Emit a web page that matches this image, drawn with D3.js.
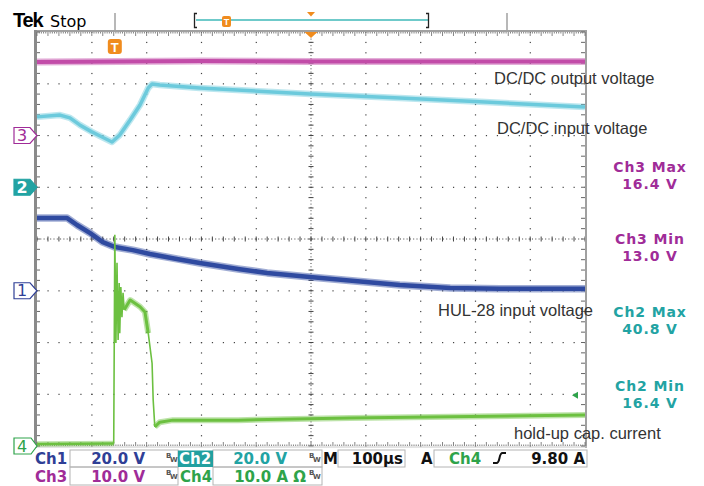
<!DOCTYPE html>
<html>
<head>
<meta charset="utf-8">
<script src="https://cdn.jsdelivr.net/npm/d3@7"></script>
<style>
  body { margin: 0; background: #fff; }
  svg { display: block; }
</style>
</head>
<body>
<svg width="704" height="486"></svg>
<script>
// time axis: microseconds, 100 us/div, 10 div
const ch1Time  = [0, 55, 73, 97, 120, 142, 175, 206, 255, 297, 367, 420, 498, 662, 754, 845, 1000];
const ch1Volts = [28.1, 28.1, 25.4, 22.3, 18.8, 16.9, 15.7, 14.2, 12.3, 10.7, 8.4, 6.9, 5.3, 2.2, 1.1, 0.8, 0.8];

const ch2Time  = [0, 42, 60, 78, 100, 115, 137, 151, 170, 188, 203, 210, 224, 297, 498, 662, 799, 1000];
const ch2Volts = [27.2, 27.9, 26.8, 24.1, 21.4, 19.8, 17.5, 20.2, 26.0, 31.8, 38.4, 39.9, 39.5, 38.4, 36.0, 34.5, 33.1, 31.0];

const ch3Time  = [0, 150, 300, 500, 700, 1000];
const ch3Volts = [14.2, 14.3, 14.4, 14.3, 14.3, 14.3];

const ch4Time  = [0, 140, 142, 144, 146, 148, 150, 151, 153, 155, 157, 159, 170, 188, 197, 203, 210, 212, 215, 224, 248, 367, 571, 1000];
const ch4Amps  = [0.4, 0.5, 40.8, 19.9, 35.4, 20.5, 31.5, 21.8, 30.7, 24.9, 29.6, 26.3, 28.2, 26.9, 25.9, 21.8, 16.0, 8.9, 3.7, 4.6, 5.0, 5.0, 5.4, 6.0];

const traceLabels = ['DC/DC output voltage', 'DC/DC input voltage', 'HUL-28 input voltage', 'hold-up cap. current'];
const measureLabels = ['Ch3 Max', 'Ch3 Min', 'Ch2 Max', 'Ch2 Min'];
const measureValues = ['16.4 V', '13.0 V', '40.8 V', '16.4 V'];

const svg = d3.select('svg');

const orange = '#f08c1e';
const col = {
  ch1: '#2f3f96', ch2: '#22a3a3', ch3: '#a02c98', ch4: '#2ea34a',
  tr1: '#2f4aa0', tr2: '#6ccadc', tr3: '#c24ca8', tr4: '#6cc040'
};

// channel settings: reference level (div from centre) and units per div
const chans = {
  ch1: {offset: -1, perDiv: 20},
  ch2: {offset: 1, perDiv: 20},
  ch3: {offset: 2, perDiv: 10},
  ch4: {offset: -4, perDiv: 10}
};

const x = d3.scaleLinear().domain([0, 1000]).range([37, 585]);
const y = d3.scaleLinear().domain([-4, 4]).range([446, 32]);

const mono = '"DejaVu Sans", sans-serif';
const sans = '"Liberation Sans", Arial, sans-serif';

// ---------- header ----------
svg.append('text').attr('x', 13).attr('y', 27)
  .attr('font-family', sans).attr('font-weight', 'bold').attr('font-size', 20)
  .attr('letter-spacing', -1.2).text('Tek');
svg.append('text').attr('x', 50).attr('y', 27)
  .attr('font-family', '"DejaVu Sans", sans-serif').attr('font-size', 16)
  .text('Stop');

[115, 507].forEach(px => {
  svg.append('line').attr('x1', px).attr('x2', px).attr('y1', 13).attr('y2', 30)
    .attr('stroke', '#b8b8b8').attr('stroke-width', 2);
});

// record view bar
svg.append('line').attr('x1', 196).attr('x2', 428).attr('y1', 20).attr('y2', 20)
  .attr('stroke', '#3fb8b8').attr('stroke-width', 1.5);
svg.append('path').attr('d', 'M197,13.5 H194.5 V27.5 H197')
  .attr('fill', 'none').attr('stroke', '#222').attr('stroke-width', 1.3);
svg.append('path').attr('d', 'M426,13.5 H428.5 V27.5 H426')
  .attr('fill', 'none').attr('stroke', '#222').attr('stroke-width', 1.3);
svg.append('rect').attr('x', 222).attr('y', 16).attr('width', 9).attr('height', 11).attr('rx', 2)
  .attr('fill', orange);
svg.append('text').attr('x', 226.5).attr('y', 25).attr('text-anchor', 'middle')
  .attr('font-family', sans).attr('font-weight', 'bold').attr('font-size', 9).attr('fill', '#fff').text('T');
svg.append('path').attr('d', 'M307,12 L315,12 L311,16.5 Z').attr('fill', orange);

// ---------- graticule ----------
const g = svg.append('g');

const minorX = d3.range(0, 1000.1, 20);
const minorY = d3.range(-4, 4.01, 0.2);
const majorX = d3.range(100, 1000, 100).filter(t => t !== 500);
const majorY = d3.range(-3, 4, 1).filter(d => d !== 0);

// dotted grid lines
majorX.forEach(t => {
  g.selectAll(null).data(minorY).enter().append('rect')
    .attr('x', x(t) - 0.5).attr('y', d => y(d) - 0.5)
    .attr('width', 1.2).attr('height', 1.2).attr('fill', '#444');
});
majorY.forEach(dv => {
  g.selectAll(null).data(minorX).enter().append('rect')
    .attr('x', d => x(d) - 0.5).attr('y', y(dv) - 0.5)
    .attr('width', 1.2).attr('height', 1.2).attr('fill', '#444');
});

// centre cross with ticks
g.append('line').attr('x1', x(0)).attr('x2', x(1000)).attr('y1', y(0)).attr('y2', y(0))
  .attr('stroke', '#444').attr('stroke-dasharray', '1,2.3');
g.append('line').attr('x1', x(500)).attr('x2', x(500)).attr('y1', y(4)).attr('y2', y(-4))
  .attr('stroke', '#444').attr('stroke-dasharray', '1,2.3');
g.selectAll(null).data(minorX).enter().append('line')
  .attr('x1', d => x(d)).attr('x2', d => x(d))
  .attr('y1', y(0) - 2.5).attr('y2', y(0) + 2.5).attr('stroke', '#444');
g.selectAll(null).data(minorY).enter().append('line')
  .attr('y1', d => y(d)).attr('y2', d => y(d))
  .attr('x1', x(500) - 2.5).attr('x2', x(500) + 2.5).attr('stroke', '#444');

// frame
g.append('line').attr('x1', 35).attr('x2', 587).attr('y1', 31).attr('y2', 31)
  .attr('stroke', '#a0a0a0').attr('stroke-width', 2);
g.append('line').attr('x1', 35.5).attr('x2', 35.5).attr('y1', 30).attr('y2', 448)
  .attr('stroke', '#8a8a8a').attr('stroke-width', 3);
g.append('line').attr('x1', 586).attr('x2', 586).attr('y1', 30).attr('y2', 448)
  .attr('stroke', '#a0a0a0').attr('stroke-width', 2);
g.append('line').attr('x1', 35).attr('x2', 587).attr('y1', 447).attr('y2', 447)
  .attr('stroke', '#c8c8c8').attr('stroke-width', 1);

// edge ticks
const fine = d3.range(0, 1000.1, 4);
g.selectAll(null).data(fine).enter().append('line')
  .attr('x1', d => x(d)).attr('x2', d => x(d))
  .attr('y1', 32).attr('y2', d => d % 20 === 0 ? 36 : 33.5)
  .attr('stroke', '#666').attr('stroke-width', 0.8);
g.selectAll(null).data(fine).enter().append('line')
  .attr('x1', d => x(d)).attr('x2', d => x(d))
  .attr('y1', 446).attr('y2', d => d % 20 === 0 ? 442 : 444.5)
  .attr('stroke', '#666').attr('stroke-width', 0.8);
g.selectAll(null).data(minorY).enter().append('line')
  .attr('y1', d => y(d)).attr('y2', d => y(d))
  .attr('x1', 37).attr('x2', 40).attr('stroke', '#666');
g.selectAll(null).data(minorY).enter().append('line')
  .attr('y1', d => y(d)).attr('y2', d => y(d))
  .attr('x1', 585).attr('x2', 581).attr('stroke', '#666');

// ---------- traces ----------
const lineFor = ch => d3.line()
  .x(d => x(d[0]))
  .y(d => y(chans[ch].offset + d[1] / chans[ch].perDiv));

const drawTrace = (ch, pts, color, w) => {
  const gen = lineFor(ch);
  svg.append('path').datum(pts).attr('d', gen)
    .attr('fill', 'none').attr('stroke', color).attr('stroke-opacity', 0.45)
    .attr('stroke-width', w + 3).attr('stroke-linejoin', 'round');
  svg.append('path').datum(pts).attr('d', gen)
    .attr('fill', 'none').attr('stroke', color)
    .attr('stroke-width', w).attr('stroke-linejoin', 'round');
};
const drawThin = (ch, pts, color, w) => {
  svg.append('path').datum(pts).attr('d', lineFor(ch))
    .attr('fill', 'none').attr('stroke', color).attr('stroke-width', w);
};

const zip = (a, b) => a.map((t, i) => [t, b[i]]);

drawTrace('ch3', zip(ch3Time, ch3Volts), col.tr3, 4);
drawTrace('ch2', zip(ch2Time, ch2Volts), col.tr2, 3.5);
drawTrace('ch1', zip(ch1Time, ch1Volts), col.tr1, 4.5);

// ch4: baseline, ringing, plateau, fall, tail
const ch4Pts = zip(ch4Time, ch4Amps);
const iRise = ch4Time.indexOf(140);
const iSettle = ch4Time.indexOf(159);
const iFall = ch4Time.indexOf(203);
const iLow = ch4Time.indexOf(215);
drawTrace('ch4', ch4Pts.slice(0, iRise + 1), col.tr4, 2.5);
drawThin('ch4', ch4Pts.slice(iRise, iSettle + 1), col.tr4, 1.6);
drawTrace('ch4', ch4Pts.slice(iSettle, iFall + 1), col.tr4, 3);
drawThin('ch4', ch4Pts.slice(iFall, iLow + 1), col.tr4, 1.6);
drawTrace('ch4', ch4Pts.slice(iLow), col.tr4, 3);

// trigger markers
svg.append('path').attr('d', `M${x(500) - 6.5},32 L${x(500) + 6.5},32 L${x(500)},38 Z`).attr('fill', orange);
const tx = x(142);
svg.append('rect').attr('x', tx - 7).attr('y', 39).attr('width', 14).attr('height', 15).attr('rx', 3)
  .attr('fill', orange);
svg.append('text').attr('x', tx).attr('y', 51.5).attr('text-anchor', 'middle')
  .attr('font-family', sans).attr('font-weight', 'bold').attr('font-size', 13)
  .attr('fill', '#fff').text('T');

// trigger level arrow (9.80 A on ch4)
const trigY = y(chans.ch4.offset + 9.8 / chans.ch4.perDiv);
svg.append('path').attr('d', `M572,${trigY} L578,${trigY - 3.5} L578,${trigY + 3.5} Z`).attr('fill', col.ch4);

// channel reference markers
const markers = [
  {ch: 'ch3', n: '3', fill: false},
  {ch: 'ch2', n: '2', fill: true},
  {ch: 'ch1', n: '1', fill: false},
  {ch: 'ch4', n: '4', fill: false}
];
markers.forEach(m => {
  const my = y(chans[m.ch].offset);
  const c = col[m.ch];
  const right = m.ch === 'ch4' ? 31 : 30;
  svg.append('path')
    .attr('d', `M14,${my - 8} H${right} L37,${my} L${right},${my + 8} H14 Z`)
    .attr('fill', m.fill ? c : '#fff').attr('stroke', c).attr('stroke-width', 1.2);
  svg.append('text').attr('x', 22).attr('y', my + 5.5).attr('text-anchor', 'middle')
    .attr('font-family', mono).attr('font-weight', m.fill ? 'bold' : 'normal').attr('font-size', 16)
    .attr('fill', m.fill ? '#fff' : c).text(m.n);
});

// trace names
const labelPos = [[494, 84], [497, 134], [438, 316], [514, 439]];
svg.selectAll('.trname').data(traceLabels).enter().append('text')
  .attr('class', 'trname')
  .attr('x', (d, i) => labelPos[i][0]).attr('y', (d, i) => labelPos[i][1])
  .attr('font-family', sans).attr('font-size', 16.5).attr('fill', '#333')
  .text(d => d);

// measurements at right
const measY = [172, 244, 317, 391];
const measCol = [col.ch3, col.ch3, col.ch2, col.ch2];
measureLabels.forEach((lbl, i) => {
  svg.append('text').attr('x', 650).attr('y', measY[i]).attr('text-anchor', 'middle')
    .attr('font-family', mono).attr('font-weight', 'bold').attr('font-size', 14)
    .attr('letter-spacing', 0.9).attr('fill', measCol[i]).text(lbl);
  svg.append('text').attr('x', 650).attr('y', measY[i] + 16.5).attr('text-anchor', 'middle')
    .attr('font-family', mono).attr('font-weight', 'bold').attr('font-size', 14)
    .attr('letter-spacing', 0.9).attr('fill', measCol[i]).text(measureValues[i]);
});

// ---------- bottom readout ----------
const bar = svg.append('g').attr('font-family', mono).attr('font-weight', 'bold').attr('font-size', 15);
const boxes = [[70, 450, 108, 17], [213, 450, 109, 17], [338, 450, 67, 17], [434, 450, 153, 17],
               [70, 467, 108, 18], [213, 467, 109, 18]];
boxes.forEach(b => {
  bar.append('rect').attr('x', b[0]).attr('y', b[1]).attr('width', b[2]).attr('height', b[3])
    .attr('fill', 'none').attr('stroke', '#b4b4b4').attr('stroke-width', 1);
});
bar.append('rect').attr('x', 178).attr('y', 450.5).attr('width', 35).attr('height', 16.5).attr('fill', '#22a0a0');

const txt = (s, px, py, c, anchor) => bar.append('text').attr('x', px).attr('y', py)
  .attr('fill', c).attr('text-anchor', anchor || 'start').text(s);
txt('Ch1', 35, 464, col.ch1);
txt('20.0 V', 145, 464, col.ch1, 'end');
txt('Ch2', 179, 464, '#fff');
txt('20.0 V', 287, 464, col.ch2, 'end');
txt('M', 323, 464, '#111');
txt('100µs', 403, 464, '#111', 'end');
txt('A', 421, 464, '#111');
txt('Ch4', 449, 464, col.ch4);
txt('9.80 A', 585, 464, '#111', 'end');
txt('Ch3', 35, 481.5, col.ch3);
txt('10.0 V', 145, 481.5, col.ch3, 'end');
txt('Ch4', 180, 481.5, col.ch4);
txt('10.0 A Ω', 306, 481.5, col.ch4, 'end');

// bandwidth limit glyphs
[[166, 452], [309, 452], [166, 469], [309, 469]].forEach(p => {
  bar.append('text').attr('x', p[0]).attr('y', p[1] + 6).attr('font-size', 7).attr('fill', '#555').text('B');
  bar.append('text').attr('x', p[0] + 4).attr('y', p[1] + 10).attr('font-size', 7).attr('fill', '#555').text('W');
});

// rising slope symbol
svg.append('path').attr('d', 'M493,463 H496.5 Q498.5,463 499.5,458 Q500.5,453 502.5,453 H506')
  .attr('fill', 'none').attr('stroke', '#111').attr('stroke-width', 2);
</script>
</body>
</html>
